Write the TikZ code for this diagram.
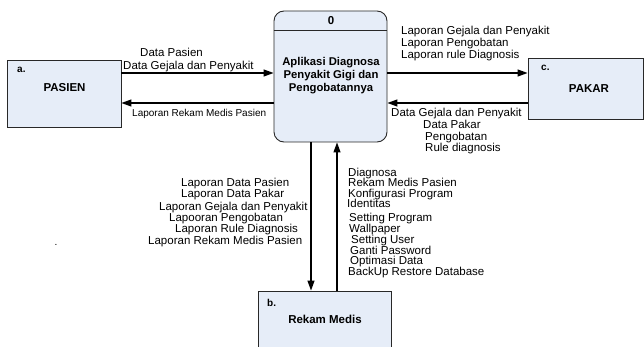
\documentclass[tikz,border=0pt]{standalone}
\usepackage{fontspec}
\setmainfont{Liberation Sans}
\usetikzlibrary{arrows.meta}
\definecolor{boxfill}{RGB}{230,237,248}
\definecolor{boxline}{RGB}{40,40,40}
\tikzset{
  entity/.style={draw=boxline, line width=0.9pt, fill=boxfill, inner sep=0pt},
  flow/.style={line width=1.2pt, -{Triangle[length=10pt,width=7pt]}},
  lbl/.style={font=\fontsize{11.5}{12}\selectfont, inner sep=0pt, anchor=west, text height=8.2pt, text depth=1.5pt},
  lbls/.style={font=\fontsize{10}{11}\selectfont, inner sep=0pt, anchor=west},
  tag/.style={font=\fontsize{10}{11}\bfseries, inner sep=0pt, anchor=west},
  ename/.style={font=\fontsize{11.5}{12}\selectfont\bfseries, inner sep=0pt},
}
\begin{document}
\begin{tikzpicture}[x=1pt,y=-1pt]
\useasboundingbox (0,0) rectangle (644,347);
\clip (0,0) rectangle (644,347);
% entities
\node[entity, minimum width=114pt, minimum height=67pt] (pasien) at (64,93.5) {};
\node[entity, minimum width=115pt, minimum height=61pt] (pakar) at (585.5,88.5) {};
\node[entity, minimum width=133pt, minimum height=70pt] (rekam) at (324.5,326) {};
\node[entity, rounded corners=10pt, minimum width=113pt, minimum height=131pt] (main) at (330.5,76.5) {};
\coordinate (divy) at (0,30);
\draw[boxline, line width=0.9pt] (main.west |- divy) -- (main.east |- divy);
% entity texts
\node[tag] (ta) at (17,70) {a.};
\node[ename] (tpasien) at (64.5,88) {PASIEN};
\node[tag] (tc) at (541,68) {c.};
\node[ename] (tpakar) at (589,89) {PAKAR};
\node[tag] (tb) at (267,303) {b.};
\node[ename] (trekam) at (325,319) {Rekam Medis};
\node[ename] (tzero) at (331,21) {0};
\node[ename, align=center, font=\fontsize{11.3}{13}\selectfont\bfseries] (ttitle) at (331,76) {Aplikasi Diagnosa\\Penyakit Gigi dan\\Pengobatannya};
% connector levels
\coordinate (y1) at (0,73);
\coordinate (y2) at (0,103);
\coordinate (xd) at (311,0);
\coordinate (xu) at (337,0);
\draw[flow] (pasien.east |- y1) -- (main.west |- y1);
\draw[flow] (main.west |- y2) -- (pasien.east |- y2);
\draw[flow] (main.east |- y1) -- (pakar.west |- y1);
\draw[flow] (pakar.west |- y2) -- (main.east |- y2);
\draw[flow] (main.south -| xd) -- (rekam.north -| xd);
\draw[flow] (rekam.north -| xu) -- (main.south -| xu);
% labels left
\node[lbl] (l1) at (140,53) {Data Pasien};
\node[lbl] (l2) at (123,66) {Data Gejala dan Penyakit};
\node[lbls] (l3) at (132,114) {Laporan Rekam Medis Pasien};
% labels right
\node[lbl] (r1) at (401,31) {Laporan Gejala dan Penyakit};
\node[lbl] (r2) at (401,43) {Laporan Pengobatan};
\node[lbl] (r3) at (401,55) {Laporan rule Diagnosis};
\node[lbl] (r4) at (391,113) {Data Gejala dan Penyakit};
\node[lbl] (r5) at (423,125) {Data Pakar};
\node[lbl] (r6) at (425,137) {Pengobatan};
\node[lbl] (r7) at (425,148) {Rule diagnosis};
% labels down
\node[lbl] (d1) at (181,183) {Laporan Data Pasien};
\node[lbl] (d2) at (181,194) {Laporan Data Pakar};
\node[lbl] (d3) at (159,207) {Laporan Gejala dan Penyakit};
\node[lbl] (d4) at (169,218) {Lapooran Pengobatan};
\node[lbl] (d5) at (175,229) {Laporan Rule Diagnosis};
\node[lbl] (d6) at (148,241) {Laporan Rekam Medis Pasien};
% labels up
\node[lbl] (u1) at (348,173) {Diagnosa};
\node[lbl] (u2) at (348,183) {Rekam Medis Pasien};
\node[lbl] (u3) at (348,194) {Konfigurasi Program};
\node[lbl] (u4) at (347,204) {Identitas};
\node[lbl] (u5) at (349,218) {Setting Program};
\node[lbl] (u6) at (349,229) {Wallpaper};
\node[lbl] (u7) at (351,240) {Setting User};
\node[lbl] (u8) at (350,251) {Ganti Password};
\node[lbl] (u9) at (350,261) {Optimasi Data};
\node[lbl] (u10) at (348,272) {BackUp Restore Database};
% stray dot
\node[lbls, anchor=center] (dot) at (56,245) {.};
\end{tikzpicture}
\end{document}
